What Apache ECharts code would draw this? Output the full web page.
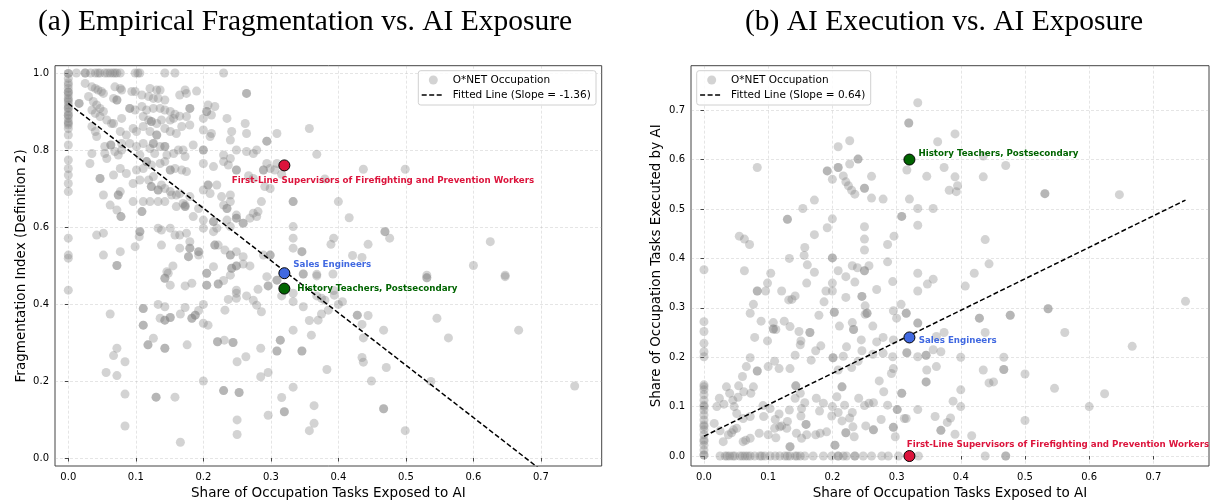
<!DOCTYPE html>
<html>
<head>
<meta charset="utf-8">
<title>Fragmentation and AI execution vs. AI exposure</title>
<script src="https://cdn.jsdelivr.net/npm/echarts@6/dist/echarts.min.js"></script>
<style>
  html, body { margin: 0; padding: 0; background: #fff; }
  #chart { width: 1211px; height: 501px; }
</style>
</head>
<body>
<div id="chart"></div>
<script>
// ---- Panel (a): share of tasks exposed to AI vs. fragmentation index ----
const pointsA = [
  // occupations with zero exposure
  [0,0.999],[0,0.999],[0,0.986],[0,0.975],[0,0.969],[0,0.96],[0,0.951],[0,0.95],[0,0.943],[0,0.934],[0,0.93],
  [0,0.925],[0,0.917],[0,0.91],[0,0.908],[0,0.899],[0,0.891],[0,0.89],[0,0.882],[0,0.873],[0,0.87],[0,0.865],
  [0,0.856],[0,0.839],[0,0.813],[0,0.774],[0,0.752],[0,0.735],[0,0.713],[0,0.692],[0,0.571],[0,0.527],[0,0.519],[0,0.436],
  // fully fragmented occupations
  [0.012,1],[0.025,1],[0.025,1],[0.033,1],[0.040,1],[0.044,1],[0.047,1],[0.054,1],[0.058,1],[0.062,1],[0.066,1],
  [0.069,1],[0.072,1],[0.077,1],[0.099,1],[0.103,1],[0.106,1],[0.143,1],[0.158,1],[0.230,1],
  // remaining occupations
  [0.025,0.973],[0.035,0.964],[0.040,0.960],[0.044,0.956],[0.049,0.952],[0.052,0.947],[0.069,0.964],[0.077,0.960],
  [0.079,0.956],[0.094,0.952],[0.099,0.952],[0.109,0.943],[0.121,0.960],[0.131,0.956],[0.136,0.956],[0.119,0.939],
  [0.126,0.934],[0.133,0.934],[0.143,0.930],[0.165,0.943],[0.173,0.956],[0.175,0.947],[0.190,0.953],[0.264,0.947],
  [0.264,0.947],[0.016,0.921],[0.016,0.921],[0.030,0.939],[0.037,0.926],[0.042,0.917],[0.047,0.908],[0.052,0.900],
  [0.067,0.934],[0.072,0.930],[0.072,0.930],[0.091,0.908],[0.091,0.908],[0.099,0.904],[0.109,0.913],[0.116,0.904],
  [0.126,0.908],[0.136,0.908],[0.143,0.904],[0.151,0.900],[0.158,0.893],[0.165,0.888],[0.175,0.887],[0.180,0.908],
  [0.180,0.908],[0.205,0.900],[0.205,0.900],[0.207,0.917],[0.217,0.913],[0.212,0.891],[0.200,0.882],[0.235,0.882],
  [0.035,0.904],[0.040,0.895],[0.047,0.887],[0.057,0.878],[0.064,0.869],[0.079,0.882],[0.111,0.887],[0.119,0.878],
  [0.123,0.874],[0.123,0.874],[0.131,0.869],[0.138,0.878],[0.151,0.878],[0.156,0.882],[0.035,0.861],[0.040,0.848],
  [0.042,0.835],[0.067,0.869],[0.077,0.848],[0.086,0.839],[0.079,0.817],[0.096,0.856],[0.101,0.848],[0.111,0.861],
  [0.121,0.848],[0.131,0.839],[0.131,0.839],[0.143,0.856],[0.151,0.848],[0.160,0.843],[0.168,0.861],[0.180,0.865],
  [0.200,0.852],[0.212,0.843],[0.210,0.835],[0.242,0.848],[0.240,0.826],[0.264,0.843],[0.262,0.869],[0.294,0.823],
  [0.294,0.823],[0.309,0.843],[0.357,0.856],[0.368,0.789],[0.063,0.813],[0.063,0.813],[0.054,0.809],[0.074,0.787],
  [0.079,0.800],[0.069,0.796],[0.035,0.791],[0.032,0.765],[0.054,0.791],[0.057,0.778],[0.091,0.817],[0.101,0.809],
  [0.111,0.817],[0.121,0.804],[0.126,0.817],[0.126,0.817],[0.128,0.791],[0.136,0.809],[0.143,0.809],[0.143,0.809],
  [0.146,0.787],[0.156,0.791],[0.163,0.800],[0.170,0.800],[0.173,0.783],[0.185,0.813],[0.200,0.800],[0.200,0.800],
  [0.230,0.787],[0.240,0.778],[0.249,0.800],[0.264,0.796],[0.274,0.791],[0.279,0.800],[0.106,0.787],[0.116,0.770],
  [0.116,0.770],[0.123,0.761],[0.136,0.765],[0.077,0.752],[0.067,0.735],[0.086,0.739],[0.101,0.748],[0.111,0.752],
  [0.143,0.770],[0.151,0.748],[0.151,0.748],[0.158,0.752],[0.168,0.748],[0.175,0.744],[0.200,0.765],[0.215,0.757],
  [0.230,0.770],[0.237,0.761],[0.249,0.748],[0.249,0.748],[0.267,0.733],[0.274,0.726],[0.289,0.748],[0.289,0.748],
  [0.294,0.765],[0.299,0.752],[0.309,0.765],[0.306,0.748],[0.316,0.737],[0.047,0.726],[0.047,0.726],[0.052,0.683],
  [0.077,0.692],[0.074,0.683],[0.074,0.683],[0.096,0.713],[0.106,0.722],[0.119,0.722],[0.123,0.705],[0.123,0.705],
  [0.126,0.731],[0.133,0.696],[0.133,0.696],[0.138,0.709],[0.143,0.700],[0.151,0.692],[0.153,0.683],[0.160,0.683],
  [0.165,0.687],[0.170,0.661],[0.173,0.653],[0.173,0.653],[0.180,0.679],[0.193,0.648],[0.200,0.696],[0.207,0.709],
  [0.207,0.709],[0.210,0.687],[0.220,0.709],[0.227,0.679],[0.230,0.657],[0.235,0.648],[0.235,0.648],[0.240,0.683],
  [0.240,0.666],[0.249,0.623],[0.249,0.623],[0.259,0.610],[0.259,0.610],[0.269,0.623],[0.274,0.636],[0.279,0.627],
  [0.281,0.640],[0.286,0.666],[0.299,0.700],[0.291,0.705],[0.333,0.666],[0.333,0.666],[0.062,0.657],[0.072,0.644],
  [0.078,0.627],[0.078,0.627],[0.096,0.666],[0.109,0.640],[0.109,0.640],[0.111,0.666],[0.121,0.666],[0.133,0.666],
  [0.143,0.666],[0.160,0.653],[0.173,0.657],[0.185,0.627],[0.200,0.618],[0.215,0.614],[0.215,0.614],[0.220,0.597],
  [0.235,0.618],[0.240,0.601],[0.249,0.631],[0.052,0.584],[0.042,0.579],[0.106,0.588],[0.106,0.588],[0.105,0.575],
  [0.133,0.597],[0.138,0.592],[0.151,0.597],[0.158,0.579],[0.165,0.579],[0.175,0.584],[0.180,0.562],[0.193,0.536],
  [0.193,0.536],[0.200,0.597],[0.215,0.588],[0.217,0.553],[0.217,0.553],[0.222,0.553],[0.232,0.540],[0.240,0.527],
  [0.240,0.527],[0.249,0.536],[0.259,0.523],[0.289,0.527],[0.299,0.527],[0.299,0.527],[0.333,0.601],[0.333,0.571],
  [0.333,0.545],[0.346,0.536],[0.346,0.536],[0.052,0.527],[0.077,0.536],[0.099,0.549],[0.138,0.553],[0.165,0.545],
  [0.180,0.545],[0.180,0.545],[0.178,0.523],[0.178,0.523],[0.193,0.527],[0.072,0.500],[0.072,0.500],[0.205,0.480],
  [0.205,0.480],[0.242,0.493],[0.242,0.493],[0.146,0.484],
  [0.437,0.750],[0.499,0.750],[0.400,0.666],[0.416,0.624],[0.469,0.588],[0.469,0.588],[0.476,0.571],[0.444,0.555],
  [0.389,0.555],[0.393,0.571],[0.421,0.526],[0.435,0.521],[0.600,0.500],[0.625,0.562],[0.531,0.475],[0.647,0.475],
  [0.368,0.477],[0.392,0.478],[0.380,0.725],
  [0.143,0.467],[0.143,0.467],[0.148,0.480],[0.151,0.449],[0.155,0.499],[0.173,0.447],[0.183,0.454],[0.205,0.449],
  [0.205,0.449],[0.222,0.452],[0.222,0.452],[0.215,0.497],[0.230,0.461],[0.240,0.475],[0.249,0.499],[0.249,0.499],
  [0.259,0.504],[0.269,0.499],[0.249,0.436],[0.249,0.428],[0.249,0.415],[0.264,0.421],[0.274,0.410],[0.281,0.438],
  [0.279,0.397],[0.286,0.380],[0.294,0.471],[0.296,0.447],[0.296,0.447],[0.309,0.462],[0.309,0.462],[0.316,0.421],
  [0.333,0.428],[0.333,0.406],[0.348,0.478],[0.348,0.478],[0.348,0.393],[0.368,0.473],[0.368,0.421],[0.380,0.410],
  [0.385,0.384],[0.062,0.374],[0.111,0.388],[0.111,0.388],[0.111,0.345],[0.111,0.345],[0.133,0.399],[0.143,0.393],
  [0.136,0.363],[0.143,0.358],[0.143,0.358],[0.151,0.365],[0.151,0.365],[0.166,0.374],[0.173,0.391],[0.183,0.363],
  [0.183,0.363],[0.188,0.371],[0.188,0.371],[0.193,0.383],[0.200,0.399],[0.200,0.350],[0.207,0.345],[0.232,0.384],
  [0.237,0.412],[0.126,0.311],[0.118,0.294],[0.118,0.294],[0.143,0.285],[0.143,0.285],[0.072,0.285],[0.067,0.266],
  [0.084,0.250],[0.176,0.294],[0.221,0.302],[0.221,0.302],[0.231,0.306],[0.244,0.300],[0.244,0.300],[0.263,0.263],
  [0.250,0.250],[0.285,0.285],[0.285,0.211],[0.296,0.222],[0.314,0.306],[0.314,0.306],[0.309,0.278],[0.309,0.278],
  [0.346,0.278],[0.346,0.278],[0.333,0.332],[0.360,0.319],[0.370,0.358],[0.383,0.230],[0.056,0.222],[0.072,0.214],
  [0.200,0.200],[0.084,0.166],[0.130,0.158],[0.130,0.158],[0.158,0.158],[0.230,0.175],[0.230,0.175],[0.253,0.170],
  [0.253,0.170],[0.333,0.184],[0.316,0.157],[0.320,0.120],[0.320,0.120],[0.296,0.111],[0.250,0.099],[0.250,0.061],
  [0.084,0.083],[0.166,0.041],[0.364,0.136],[0.364,0.090],[0.357,0.071],
  [0.647,0.471],[0.531,0.468],[0.531,0.468],[0.375,0.415],[0.394,0.423],[0.393,0.435],[0.406,0.406],[0.400,0.399],
  [0.375,0.374],[0.357,0.357],[0.428,0.371],[0.428,0.371],[0.444,0.370],[0.435,0.347],[0.437,0.312],[0.467,0.332],
  [0.546,0.363],[0.563,0.312],[0.667,0.332],[0.435,0.261],[0.437,0.249],[0.471,0.235],[0.449,0.200],[0.537,0.199],
  [0.750,0.187],[0.467,0.128],[0.467,0.128],[0.499,0.071]
];
const fitA = [[0, 0.921], [0.75, -0.099]];
const slopeA = -1.36;
const highlightYA = [0.76, 0.48, 0.44];

// ---- Panel (b): share of tasks exposed to AI vs. share executed by AI ----
const pointsB = [
  // occupations with zero exposure
  [0,0.377],[0,0.272],[0,0.252],[0,0.228],[0,0.211],[0,0.201],[0,0.144],[0,0.14],[0,0.134],[0,0.124],[0,0.113],
  [0,0.103],[0,0.1],[0,0.093],[0,0.083],[0,0.073],[0,0.063],[0,0.06],[0,0.053],[0,0.043],[0,0.033],[0,0.03],
  [0,0.022],[0,0.012],[0,0.002],[0,0.002],
  // occupations with no executed tasks
  [0.025,0],[0.033,0],[0.036,0],[0.040,0],[0.045,0],[0.048,0],[0.056,0],[0.060,0],[0.064,0],[0.068,0],[0.072,0],
  [0.079,0],[0.087,0],[0.090,0],[0.095,0],[0.103,0],[0.111,0],[0.118,0],[0.126,0],[0.130,0],[0.134,0],[0.142,0],
  [0.145,0],[0.150,0],[0.157,0],[0.170,0],[0.186,0],[0.199,0],[0.209,0],[0.209,0],[0.217,0],[0.222,0],[0.235,0],
  [0.235,0],[0.248,0],[0.261,0],[0.277,0],[0.287,0],[0.303,0],[0.334,0],[0.438,0],[0.470,0],[0.470,0],
  // remaining occupations
  [0.333,0.715],[0.319,0.674],[0.319,0.674],[0.364,0.636],[0.227,0.638],[0.209,0.626],[0.240,0.601],[0.240,0.601],
  [0.227,0.591],[0.209,0.584],[0.209,0.584],[0.192,0.577],[0.192,0.577],[0.083,0.584],[0.200,0.560],[0.217,0.567],
  [0.221,0.555],[0.225,0.547],[0.230,0.538],[0.235,0.530],[0.261,0.566],[0.250,0.542],[0.250,0.542],[0.261,0.522],
  [0.279,0.520],[0.316,0.579],[0.347,0.566],[0.374,0.584],[0.382,0.538],[0.320,0.520],[0.333,0.501],[0.357,0.501],
  [0.308,0.485],[0.308,0.485],[0.333,0.467],[0.296,0.445],[0.286,0.428],[0.250,0.464],[0.250,0.439],[0.250,0.417],
  [0.200,0.480],[0.192,0.462],[0.154,0.501],[0.172,0.518],[0.130,0.479],[0.130,0.479],[0.172,0.448],[0.157,0.422],
  [0.156,0.406],[0.161,0.387],[0.133,0.400],[0.055,0.445],[0.063,0.439],[0.071,0.428],[0.063,0.375],[0.104,0.370],
  [0.200,0.401],[0.200,0.401],[0.209,0.375],[0.231,0.385],[0.239,0.381],[0.257,0.385],[0.250,0.375],[0.250,0.375],
  [0.286,0.393],[0.333,0.370],
  [0.391,0.652],[0.435,0.607],[0.391,0.565],[0.435,0.565],[0.470,0.588],[0.395,0.547],[0.393,0.535],[0.531,0.531],
  [0.531,0.531],[0.647,0.529],[0.438,0.438],[0.444,0.389],[0.421,0.370],
  [0.172,0.372],[0.221,0.363],[0.294,0.353],[0.348,0.348],[0.357,0.358],[0.099,0.350],[0.083,0.334],[0.083,0.334],
  [0.096,0.334],[0.121,0.334],[0.132,0.316],[0.137,0.317],[0.142,0.324],[0.160,0.350],[0.190,0.334],[0.200,0.350],
  [0.200,0.334],[0.187,0.312],[0.221,0.321],[0.246,0.323],[0.246,0.323],[0.251,0.304],[0.235,0.352],[0.269,0.337],
  [0.307,0.307],[0.315,0.289],[0.315,0.289],[0.333,0.334],[0.333,0.269],[0.333,0.269],[0.077,0.307],[0.072,0.289],
  [0.089,0.273],[0.108,0.270],[0.108,0.257],[0.108,0.257],[0.112,0.256],[0.125,0.273],[0.134,0.262],[0.148,0.252],
  [0.151,0.233],[0.165,0.250],[0.165,0.250],[0.179,0.285],[0.203,0.291],[0.203,0.291],[0.211,0.263],[0.233,0.256],
  [0.233,0.256],[0.231,0.270],[0.245,0.235],[0.251,0.287],[0.254,0.289],[0.254,0.289],[0.263,0.263],[0.279,0.240],
  [0.295,0.235],[0.295,0.294],[0.300,0.279],[0.374,0.250],[0.362,0.242],[0.079,0.240],[0.099,0.233],[0.072,0.199],
  [0.066,0.181],[0.083,0.172],[0.083,0.172],[0.100,0.181],[0.110,0.192],[0.117,0.177],[0.134,0.177],[0.142,0.204],
  [0.150,0.225],[0.167,0.194],[0.174,0.213],[0.182,0.223],[0.201,0.199],[0.201,0.199],[0.217,0.202],[0.222,0.221],
  [0.209,0.174],[0.230,0.179],[0.240,0.192],[0.246,0.213],[0.263,0.206],[0.269,0.231],[0.279,0.208],[0.294,0.201],
  [0.295,0.177],[0.316,0.209],[0.316,0.209],[0.333,0.201],[0.346,0.204],[0.346,0.204],[0.347,0.174],[0.362,0.181],
  [0.369,0.211],[0.060,0.161],[0.054,0.142],[0.062,0.130],[0.077,0.140],[0.073,0.127],[0.053,0.119],[0.040,0.127],
  [0.035,0.140],[0.045,0.113],[0.024,0.117],[0.020,0.100],[0.031,0.105],[0.047,0.100],[0.051,0.086],[0.061,0.076],
  [0.072,0.080],[0.092,0.102],[0.093,0.080],[0.103,0.096],[0.111,0.074],[0.117,0.085],[0.118,0.059],[0.130,0.070],
  [0.133,0.093],[0.143,0.142],[0.143,0.142],[0.142,0.117],[0.150,0.127],[0.152,0.096],[0.159,0.064],[0.159,0.064],
  [0.151,0.081],[0.157,0.108],[0.175,0.117],[0.180,0.091],[0.186,0.107],[0.200,0.100],[0.207,0.120],[0.215,0.140],
  [0.215,0.140],[0.219,0.103],[0.209,0.088],[0.199,0.081],[0.227,0.077],[0.231,0.088],[0.241,0.117],[0.250,0.102],
  [0.257,0.107],[0.264,0.108],[0.273,0.152],[0.280,0.130],[0.286,0.103],[0.292,0.167],[0.301,0.094],[0.301,0.094],
  [0.308,0.127],[0.308,0.127],[0.315,0.076],[0.333,0.094],[0.016,0.066],[0.025,0.051],[0.030,0.029],[0.038,0.043],
  [0.043,0.047],[0.046,0.053],[0.051,0.056],[0.061,0.029],[0.065,0.032],[0.072,0.036],[0.086,0.046],[0.100,0.043],
  [0.110,0.056],[0.112,0.037],[0.121,0.061],[0.129,0.056],[0.134,0.019],[0.134,0.019],[0.144,0.046],[0.152,0.036],
  [0.160,0.043],[0.174,0.043],[0.181,0.046],[0.191,0.049],[0.204,0.022],[0.204,0.022],[0.215,0.071],[0.221,0.047],
  [0.221,0.047],[0.232,0.059],[0.234,0.039],[0.252,0.061],[0.264,0.053],[0.264,0.053],[0.276,0.074],[0.295,0.058],
  [0.295,0.058],[0.298,0.039],[0.312,0.076],
  [0.407,0.344],[0.750,0.313],[0.536,0.298],[0.536,0.298],[0.477,0.285],[0.477,0.285],[0.429,0.279],[0.429,0.279],
  [0.438,0.250],[0.562,0.250],[0.667,0.222],[0.357,0.215],[0.400,0.200],[0.467,0.200],[0.435,0.174],[0.467,0.175],
  [0.467,0.175],[0.500,0.166],[0.346,0.150],[0.346,0.150],[0.444,0.148],[0.451,0.150],[0.400,0.134],[0.546,0.137],
  [0.624,0.126],[0.388,0.111],[0.400,0.100],[0.600,0.100],[0.360,0.080],[0.384,0.077],[0.379,0.068],[0.500,0.072],
  [0.369,0.052],[0.369,0.052],[0.391,0.044],[0.417,0.041]
];
const fitB = [[0, 0.040], [0.75, 0.518]];
const slopeB = 0.64;
const highlightYB = [0.00, 0.24, 0.60];

// ---- Highlighted occupations (shared by both panels) ----
const highlightNames = [
  'First-Line Supervisors of Firefighting and Prevention Workers',
  'Sales Engineers',
  'History Teachers, Postsecondary'
];
const highlightX = [0.32, 0.32, 0.32];
const highlightColors = ['#DC143C', '#4169E1', '#006400'];

// ---- Ticks, titles and axis names ----
const xTicks = [0, 0.1, 0.2, 0.3, 0.4, 0.5, 0.6, 0.7];
const yTicksA = [0, 0.2, 0.4, 0.6, 0.8, 1.0];
const yTicksB = [0, 0.1, 0.2, 0.3, 0.4, 0.5, 0.6, 0.7];
const titleA = '(a) Empirical Fragmentation vs. AI Exposure';
const titleB = '(b) AI Execution vs. AI Exposure';
const xName = 'Share of Occupation Tasks Exposed to AI';
const yNameA = 'Fragmentation Index (Definition 2)';
const yNameB = 'Share of Occupation Tasks Executed by AI';
const scatterLegend = 'O*NET Occupation';

const SANS = 'DejaVu Sans';
const SERIF = 'Liberation Serif';

// panel geometry (pixels)
const gridA = { left: 55, top: 65.7, width: 546.7, height: 400.3 };
const gridB = { left: 691, top: 65.7, width: 518, height: 400.3 };

// label placement relative to each highlighted marker, per panel
const labelOffsetA = [[-52.6, 15.3], [9, -8.3], [13, 0]];
const labelOffsetB = [[-2.7, -11.7], [9.3, 3.3], [9, -6.3]];

function gridStyle(g) {
  return Object.assign({
    show: true, backgroundColor: '#ffffff', borderColor: '#444444', borderWidth: 1,
    containLabel: false, outerBoundsMode: 'none'
  }, g);
}

const splitLineStyle = { color: 'rgba(170,170,170,0.38)', type: [3, 2], width: 0.8 };

function xAxisFor(idx, min, max) {
  return {
    type: 'value', gridIndex: idx, min: min, max: max, splitNumber: 8,
    name: xName, nameLocation: 'middle', nameGap: 20,
    nameTextStyle: { fontFamily: SANS, fontSize: 13.5, color: '#000' },
    axisLine: { show: false },
    axisTick: { show: true, inside: false, length: 3.5, customValues: xTicks,
      lineStyle: { color: '#444444', width: 1 } },
    axisLabel: { customValues: xTicks, margin: 6, fontFamily: SANS, fontSize: 10, color: '#000',
      formatter: v => v.toFixed(1) },
    splitLine: { show: true, lineStyle: splitLineStyle }
  };
}

function yAxisFor(idx, min, max, ticks, name, gap, split) {
  return {
    type: 'value', gridIndex: idx, min: min, max: max, splitNumber: split,
    name: name, nameLocation: 'middle', nameGap: gap,
    nameTextStyle: { fontFamily: SANS, fontSize: 13.5, color: '#000' },
    axisLine: { show: false },
    axisTick: { show: true, inside: false, length: 3.5, customValues: ticks,
      lineStyle: { color: '#444444', width: 1 } },
    axisLabel: { customValues: ticks, margin: 6, fontFamily: SANS, fontSize: 10, color: '#000',
      formatter: v => v.toFixed(1) },
    splitLine: { show: true, lineStyle: splitLineStyle }
  };
}

function highlightSeries(idx, ys, offsets) {
  return {
    type: 'scatter', xAxisIndex: idx, yAxisIndex: idx, z: 5,
    symbolSize: 11,
    data: highlightNames.map((n, i) => ({
      name: n,
      value: [highlightX[i], ys[i]],
      itemStyle: { color: highlightColors[i], borderColor: '#000', borderWidth: 1, opacity: 1 },
      label: {
        show: true, formatter: n, position: 'inside', align: 'left', verticalAlign: 'middle',
        offset: offsets[i], color: highlightColors[i], fontFamily: SANS, fontWeight: 'bold', fontSize: 8.7
      }
    }))
  };
}

function legendGraphic(box, slope) {
  const x = box.x, y = box.y;
  return [
    { type: 'rect', z: 100, shape: { x: x, y: y, width: box.w, height: 34.3, r: 2.5 },
      style: { fill: 'rgba(255,255,255,0.85)', stroke: '#d0d0d0', lineWidth: 1 } },
    { type: 'circle', z: 101, shape: { cx: x + 15, cy: y + 9.3, r: 4.5 },
      style: { fill: '#808080', opacity: 0.35 } },
    { type: 'text', z: 101, style: { x: x + 34.4, y: y + 9.3, text: scatterLegend,
      font: '10.5px "DejaVu Sans"', fill: '#000', verticalAlign: 'middle' } },
    { type: 'line', z: 101, shape: { x1: x + 3.4, y1: y + 24.3, x2: x + 25.7, y2: y + 24.3 },
      style: { stroke: '#000', lineWidth: 1.5, lineDash: [5, 2.5] } },
    { type: 'text', z: 101, style: { x: x + 34.4, y: y + 24.3,
      text: 'Fitted Line (Slope = ' + slope.toFixed(2) + ')',
      font: '10.5px "DejaVu Sans"', fill: '#000', verticalAlign: 'middle' } }
  ];
}

const scatterStyle = { color: '#808080', opacity: 0.35 };
const fitStyle = { color: '#000', width: 1.5, type: [5, 2.5] };
const titleStyle = { fontFamily: SERIF, fontSize: 29.5, fontWeight: 'normal', color: '#000' };

const option = {
  backgroundColor: '#ffffff',
  animation: false,
  title: [
    { text: titleA, left: 300, top: 2, textAlign: 'center', textStyle: titleStyle },
    { text: titleB, left: 939, top: 2, textAlign: 'center', textStyle: titleStyle }
  ],
  grid: [gridStyle(gridA), gridStyle(gridB)],
  xAxis: [xAxisFor(0, -0.0197, 0.790), xAxisFor(1, -0.0202, 0.7866)],
  yAxis: [
    yAxisFor(0, -0.0208, 1.019, yTicksA, yNameA, 27, 5),
    yAxisFor(1, -0.0202, 0.790, yTicksB, yNameB, 28, 8)
  ],
  series: [
    { type: 'scatter', xAxisIndex: 0, yAxisIndex: 0, data: pointsA, symbolSize: 9,
      itemStyle: scatterStyle, z: 2 },
    { type: 'line', xAxisIndex: 0, yAxisIndex: 0, data: fitA, showSymbol: false, symbol: 'none',
      clip: true, lineStyle: fitStyle, z: 3 },
    highlightSeries(0, highlightYA, labelOffsetA),
    { type: 'scatter', xAxisIndex: 1, yAxisIndex: 1, data: pointsB, symbolSize: 9,
      itemStyle: scatterStyle, z: 2 },
    { type: 'line', xAxisIndex: 1, yAxisIndex: 1, data: fitB, showSymbol: false, symbol: 'none',
      clip: true, lineStyle: fitStyle, z: 3 },
    highlightSeries(1, highlightYB, labelOffsetB)
  ],
  graphic: [].concat(
    legendGraphic({ x: 418.3, y: 70.7, w: 177.7 }, slopeA),
    legendGraphic({ x: 696.7, y: 70.7, w: 174 }, slopeB)
  )
};

const chart = echarts.init(document.getElementById('chart'), null, { renderer: 'canvas' });
chart.setOption(option);
</script>
</body>
</html>
